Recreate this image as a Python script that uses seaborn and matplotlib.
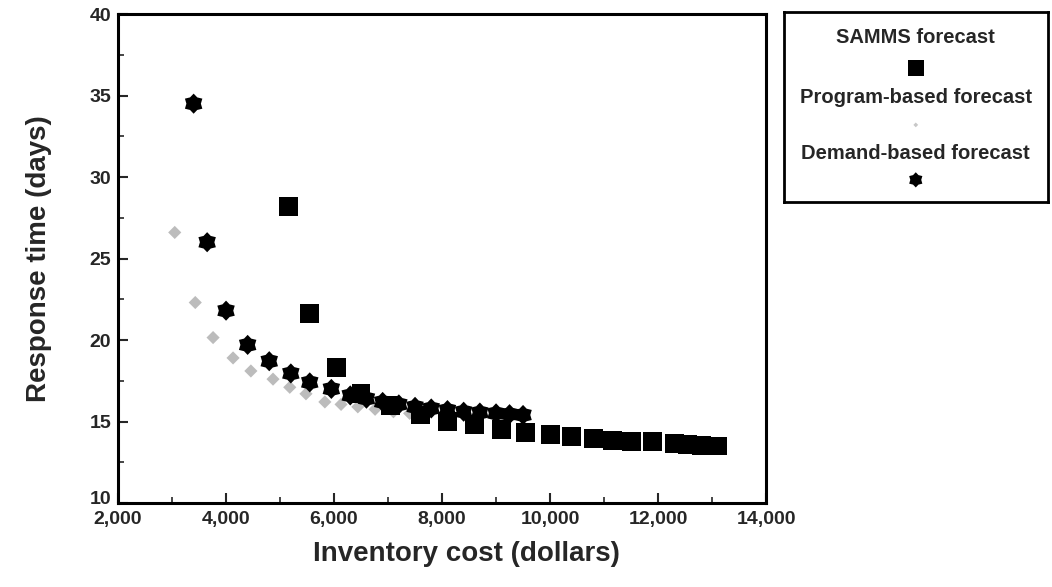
import numpy as np
import pandas as pd
import matplotlib
matplotlib.use("Agg")
import matplotlib.pyplot as plt
import matplotlib.transforms as mtransforms
from matplotlib.path import Path
import seaborn as sns

# SAMMS forecast
samms_cost = [5150, 5550, 6050, 6500, 7050, 7600, 8100, 8600, 9100, 9550,
              10000, 10400, 10800, 11150, 11500, 11900, 12300, 12550, 12800, 13100]
samms_days = [28.2, 21.6, 18.3, 16.7, 16.0, 15.4, 15.0, 14.8, 14.5, 14.3,
              14.2, 14.1, 13.95, 13.85, 13.8, 13.75, 13.65, 13.6, 13.55, 13.5]

# Program-based forecast
program_cost = [3050, 3430, 3760, 4130, 4460, 4870, 5180, 5480, 5830, 6130,
                6440, 6760, 7100, 7400]
program_days = [26.6, 22.3, 20.15, 18.9, 18.1, 17.6, 17.1, 16.7, 16.2, 16.05,
                15.9, 15.75, 15.6, 15.5]

# Demand-based forecast
demand_cost = [3400, 3650, 4000, 4400, 4800, 5200, 5550, 5950, 6300, 6600,
               6900, 7200, 7500, 7800, 8100, 8400, 8700, 9000, 9250, 9500]
demand_days = [34.5, 26.0, 21.8, 19.7, 18.7, 17.95, 17.4, 17.0, 16.6, 16.4,
               16.2, 16.05, 15.9, 15.8, 15.7, 15.6, 15.55, 15.5, 15.45, 15.4]

series_names = ["SAMMS forecast", "Program-based forecast", "Demand-based forecast"]
x_ticks = [2000, 4000, 6000, 8000, 10000, 12000, 14000]
y_ticks = [10, 15, 20, 25, 30, 35, 40]

sns.set_theme(style="white")
plt.rcParams["font.family"] = ["Liberation Sans", "DejaVu Sans"]
plt.rcParams["font.weight"] = "bold"

# Fat six-pointed star marker
ang = np.pi / 2 + np.arange(12) * np.pi / 6
rad = np.where(np.arange(12) % 2 == 0, 1.0, 0.72)
verts = np.column_stack([rad * np.cos(ang), rad * np.sin(ang)])
verts = np.vstack([verts, verts[:1]])
codes = [Path.MOVETO] + [Path.LINETO] * 11 + [Path.CLOSEPOLY]
star = Path(verts, codes)

df_s = pd.DataFrame({"cost": samms_cost, "days": samms_days})
df_p = pd.DataFrame({"cost": program_cost, "days": program_days})
df_d = pd.DataFrame({"cost": demand_cost, "days": demand_days})

fig = plt.figure(figsize=(10.52, 5.87), dpi=100)
ax = fig.add_axes([0.1122, 0.1431, 0.616, 0.833])

sns.scatterplot(data=df_p, x="cost", y="days", ax=ax, marker="D", s=45,
                color="#bcbcbc", edgecolor="none", zorder=2, legend=False)
sns.scatterplot(data=df_s, x="cost", y="days", ax=ax, marker="s", s=185,
                color="black", edgecolor="none", zorder=3, legend=False)
sns.scatterplot(data=df_d, x="cost", y="days", ax=ax, marker=star, s=210,
                color="black", edgecolor="none", zorder=4, legend=False)

ax.set_xlim(2000, 14000)
ax.set_ylim(10, 40)
ax.set_xticks(x_ticks)
ax.set_xticklabels([f"{v:,}" for v in x_ticks])
ax.set_yticks(y_ticks)
ax.set_yticklabels([str(v) for v in y_ticks])
ax.set_xticks(np.arange(3000, 14000, 2000), minor=True)
ax.set_yticks(np.arange(12.5, 40, 5), minor=True)
ax.tick_params(axis="x", which="major", direction="in", length=7, width=1.5,
               labelsize=14, pad=6, bottom=True)
ax.tick_params(axis="y", which="major", direction="in", length=7, width=1.5,
               labelsize=14, pad=5, left=True)
ax.tick_params(axis="both", which="minor", direction="in", length=4, width=1.2,
               bottom=True, left=True)
for lab in ax.get_xticklabels() + ax.get_yticklabels():
    lab.set_fontweight("bold")
# lift the bottom y label clear of the first x label
lift = mtransforms.ScaledTranslation(0, 4 / 72, fig.dpi_scale_trans)
ylabs = ax.get_yticklabels()
ylabs[0].set_transform(ylabs[0].get_transform() + lift)
for sp in ax.spines.values():
    sp.set_linewidth(2.2)
    sp.set_color("black")

ax.set_xlabel("Inventory cost (dollars)", fontsize=20, fontweight="bold")
ax.set_ylabel("Response time (days)", fontsize=20, fontweight="bold")
ax.xaxis.set_label_coords(0.537, -0.078)
ax.yaxis.set_label_coords(-0.102, 0.5)

# Legend box with labels stacked above their markers
lax = fig.add_axes([0.745, 0.656, 0.251, 0.324])
lax.set_xlim(0, 1)
lax.set_ylim(0, 1)
lax.set_xticks([])
lax.set_yticks([])
for sp in lax.spines.values():
    sp.set_linewidth(2.0)
    sp.set_color("black")
text_y = [0.863, 0.547, 0.253]
mark_y = [0.705, 0.405, 0.116]
for name, ty in zip(series_names, text_y):
    lax.text(0.5, ty, name, ha="center", va="center", fontsize=14.5, fontweight="bold")
lax.scatter([0.5], [mark_y[0]], marker="s", s=130, color="black", edgecolor="none")
lax.scatter([0.5], [mark_y[1]], marker="D", s=6, color="#c8c8c8", edgecolor="none")
lax.scatter([0.5], [mark_y[2]], marker=star, s=120, color="black", edgecolor="none")

fig.savefig("out.png", dpi=100)
